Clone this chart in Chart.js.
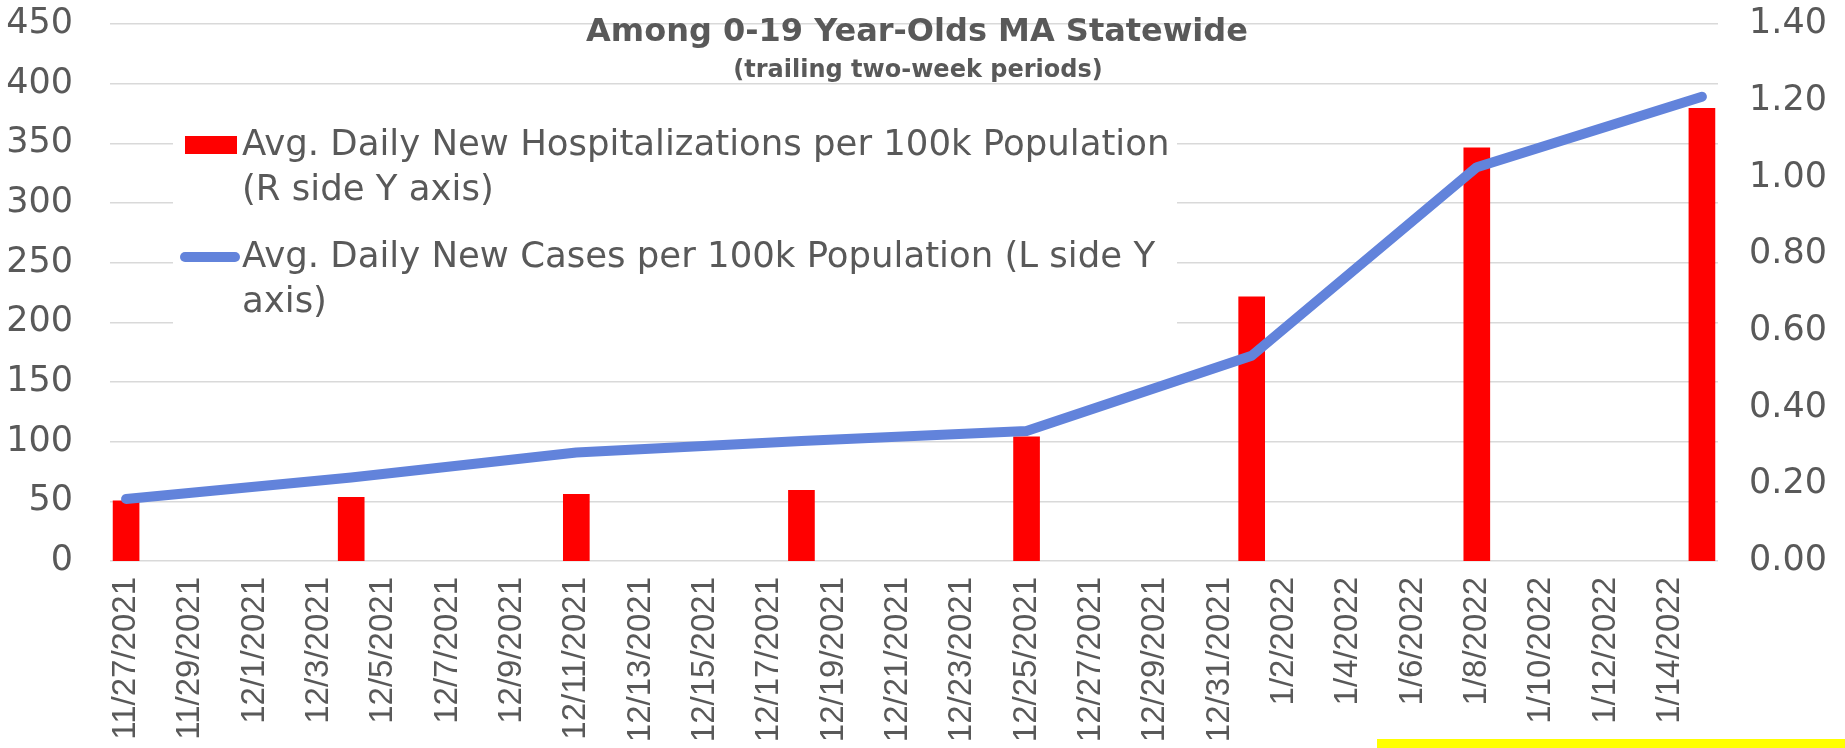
<!DOCTYPE html>
<html>
<head>
<meta charset="utf-8">
<script src="https://cdn.jsdelivr.net/npm/chart.js@4.4.1/dist/chart.umd.min.js"></script>
<style>
  body { margin: 0; background: #fff; }
  #wrap { width: 1845px; height: 748px; position: relative; }
</style>
</head>
<body>
<div id="wrap"><canvas id="chart"></canvas></div>
<script>
// daily date axis (labels shown every other day)
const days = [
  '11/27/2021', '11/28/2021', '11/29/2021', '11/30/2021',
  '12/1/2021', '12/2/2021', '12/3/2021', '12/4/2021', '12/5/2021', '12/6/2021', '12/7/2021',
  '12/8/2021', '12/9/2021', '12/10/2021', '12/11/2021', '12/12/2021', '12/13/2021', '12/14/2021',
  '12/15/2021', '12/16/2021', '12/17/2021', '12/18/2021', '12/19/2021', '12/20/2021', '12/21/2021',
  '12/22/2021', '12/23/2021', '12/24/2021', '12/25/2021', '12/26/2021', '12/27/2021', '12/28/2021',
  '12/29/2021', '12/30/2021', '12/31/2021',
  '1/1/2022', '1/2/2022', '1/3/2022', '1/4/2022', '1/5/2022', '1/6/2022', '1/7/2022',
  '1/8/2022', '1/9/2022', '1/10/2022', '1/11/2022', '1/12/2022', '1/13/2022', '1/14/2022', '1/15/2022'
];

// weekly data points
const weeks = ['11/27/2021', '12/4/2021', '12/11/2021', '12/18/2021', '12/25/2021', '1/1/2022', '1/8/2022', '1/15/2022'];
const hospRate = [0.157, 0.166, 0.174, 0.184, 0.324, 0.689, 1.077, 1.180];
const caseRate = [52, 70, 91, 100.5, 109, 172, 330, 389];

const leftTicks = [0, 50, 100, 150, 200, 250, 300, 350, 400, 450];
const rightTicks = [0, 0.2, 0.4, 0.6, 0.8, 1.0, 1.2, 1.4];

const hospLabel = ['Avg. Daily New Hospitalizations per 100k Population', '(R side Y axis)'];
const caseLabel = ['Avg. Daily New Cases per 100k Population (L side Y', 'axis)'];
const titleText = 'Among 0-19 Year-Olds MA Statewide';
const subtitleText = '(trailing two-week periods)';

const grey = '#595959';
const font = '"Liberation Sans", Arial, sans-serif';
const wide = '"DejaVu Sans", sans-serif';

function onDays(vals) {
  const out = days.map(() => null);
  weeks.forEach((w, i) => { out[days.indexOf(w)] = vals[i]; });
  return out;
}

const overlay = {
  id: 'overlay',
  beforeDatasetsDraw(chart) {
    const c = chart.ctx;
    c.save();
    // legend box sits inside the plot, hiding the grid behind it
    c.fillStyle = '#fff';
    c.fillRect(173, 118, 1004, 214);
    c.fillStyle = '#ff0000';
    c.fillRect(185, 136, 52, 18);
    c.strokeStyle = '#6283db';
    c.lineWidth = 10;
    c.lineCap = 'round';
    c.beginPath();
    c.moveTo(185, 257);
    c.lineTo(235, 257);
    c.stroke();
    c.fillStyle = grey;
    c.font = '35.5px ' + wide;
    c.textBaseline = 'middle';
    c.textAlign = 'left';
    c.fillText(hospLabel[0], 242, 146);
    c.fillText(hospLabel[1], 242, 191);
    c.fillText(caseLabel[0], 242, 258);
    c.fillText(caseLabel[1], 242, 303);
    c.restore();
  },
  afterDraw(chart) {
    const c = chart.ctx;
    c.save();
    c.fillStyle = grey;
    c.textAlign = 'center';
    c.textBaseline = 'middle';
    c.font = 'bold 32px ' + wide;
    c.fillText(titleText, 917, 33);
    c.font = 'bold 24px ' + wide;
    c.fillText(subtitleText, 918, 71);
    c.fillStyle = '#ffff00';
    c.fillRect(1377, 739, 468, 9);
    c.restore();
  }
};

new Chart(document.getElementById('chart'), {
  type: 'bar',
  data: {
    labels: days,
    datasets: [
      {
        type: 'line',
        label: caseLabel.join(' '),
        data: onDays(caseRate),
        yAxisID: 'yL',
        borderColor: '#6283db',
        borderWidth: 10,
        borderCapStyle: 'round',
        borderJoinStyle: 'round',
        pointRadius: 0,
        spanGaps: true,
        order: 0
      },
      {
        type: 'bar',
        label: hospLabel.join(' '),
        data: onDays(hospRate),
        yAxisID: 'yR',
        backgroundColor: '#ff0000',
        barThickness: 26,
        order: 1
      }
    ]
  },
  options: {
    responsive: true,
    maintainAspectRatio: false,
    animation: false,
    layout: { padding: { top: 24, left: 0, right: 0, bottom: 0 } },
    plugins: {
      legend: { display: false },
      title: { display: false },
      tooltip: { enabled: false }
    },
    scales: {
      x: {
        offset: true,
        grid: { display: false },
        border: { display: false },
        ticks: {
          autoSkip: false,
          minRotation: 90,
          maxRotation: 90,
          padding: 8,
          color: grey,
          font: { family: font, size: 33 },
          callback: (v, i) => (i % 2 === 0 ? days[i] : '')
        },
        afterFit: s => { s.height = 187; s.paddingLeft = 0; s.paddingRight = 0; }
      },
      yL: {
        position: 'left',
        min: 0,
        max: 450,
        afterBuildTicks: s => { s.ticks = leftTicks.map(v => ({ value: v })); },
        grid: { color: '#d9d9d9', lineWidth: 1.5, drawTicks: false },
        border: { display: false },
        ticks: {
          padding: 37,
          color: grey,
          font: { family: wide, size: 35 }
        },
        afterFit: s => { s.width = 110; s.paddingTop = 0; s.paddingBottom = 0; }
      },
      yR: {
        position: 'right',
        min: 0,
        max: 1.4,
        afterBuildTicks: s => { s.ticks = rightTicks.map(v => ({ value: v })); },
        grid: { display: false, drawTicks: false },
        border: { display: false },
        ticks: {
          padding: 31,
          color: grey,
          font: { family: wide, size: 35 },
          callback: v => Number(v).toFixed(2)
        },
        afterFit: s => { s.width = 127; s.paddingTop = 0; s.paddingBottom = 0; }
      }
    }
  },
  plugins: [overlay]
});
</script>
</body>
</html>
